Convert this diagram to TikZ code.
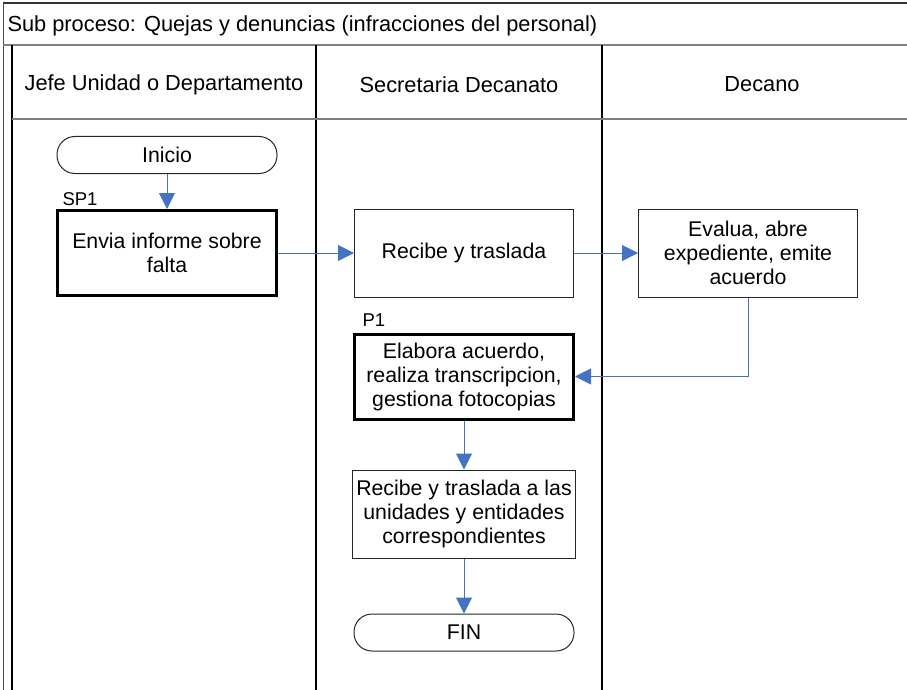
\documentclass[tikz,border=0pt]{standalone}
\usepackage{fontspec}
\setmainfont{Liberation Sans}
\usepackage{xcolor}
\definecolor{cblue}{RGB}{68,114,196}
\definecolor{cgray}{rgb}{0.5,0.5,0.5}
\usepackage{tikz}
\usetikzlibrary{arrows.meta, positioning}
\tikzset{
Header/.style={
	font=\fontsize{21.8}{24}\selectfont
},
Box/.style={
	draw=black!85, line width=1pt,
	align=center,
	minimum width=219pt,
	minimum height=88pt,
	font=\fontsize{21.3}{24}\selectfont
},
SubBox/.style={
	Box,
	draw=black, line width=3pt,
	minimum height=85pt
},
Terminal/.style={
	Box,
	rounded corners=18pt,
	minimum width=220pt,
	minimum height=37pt
},
Tag/.style={
	font=\fontsize{18.5}{20}\selectfont,
	anchor=south west
},
Flow/.style={
	draw=cblue, line width=1pt,
	-{Triangle[length=16pt, width=16pt]}
},
Lane/.style={
	draw=black, line width=1.2pt
},
Rule/.style={
	draw=cgray, line width=1.6pt
}
}

\begin{document}
\begin{tikzpicture}[x=1pt, y=-1pt]
	\useasboundingbox (0,0) rectangle (907,690);
	\clip (0,0) rectangle (907,690);

	% pool and lanes
	\draw[black!80, line width=1.2pt] (3,3) -- (907,3);
	\draw[black!70, line width=1pt] (3,3) -- (3,690);
	\draw[Rule] (3,45) -- (907,45);
	\draw[Lane] (12,45) -- (12,690);
	\draw[Lane] (316,45) -- (316,690);
	\draw[Lane] (602,45) -- (602,690);
	\draw[Rule] (12,119) -- (907,119);

	\node[Header, anchor=west] (titulo) at (4,26) {Sub proceso: Quejas y denuncias (infracciones del personal)};
	\node[Header] (jefe) at (164,85) {Jefe Unidad o Departamento};
	\node[Header] (secretaria) at (459,85) {Secretaria Decanato};
	\node[Header] (decano) at (762,84) {Decano};

	\node[Terminal] (inicio) at (167,155) {Inicio};
	\node[SubBox, below=35pt of inicio, label={[Tag, xshift=3pt]north west:SP1}] (envia) {Envia informe sobre\\falta};
	\node[Box, right=76pt of envia] (recibe) {Recibe y traslada};
	\node[Box, right=64pt of recibe] (evalua) {Evalua, abre\\expediente, emite\\acuerdo};
	\node[SubBox, below=35pt of recibe, label={[Tag, xshift=6pt, yshift=2pt]north west:P1}] (elabora) {Elabora acuerdo,\\realiza transcripcion,\\gestiona fotocopias};
	\node[Box, below=49pt of elabora] (traslada) {Recibe y traslada a las\\unidades y entidades\\correspondientes};
	\node[Terminal, below=55pt of traslada] (fin) {FIN};

	\draw[Flow] (inicio) -- (envia);
	\draw[Flow] (envia) -- (recibe);
	\draw[Flow] (recibe) -- (evalua);
	\draw[Flow] (evalua) |- (elabora);
	\draw[Flow] (elabora) -- (traslada);
	\draw[Flow] (traslada) -- (fin);
\end{tikzpicture}
\end{document}
